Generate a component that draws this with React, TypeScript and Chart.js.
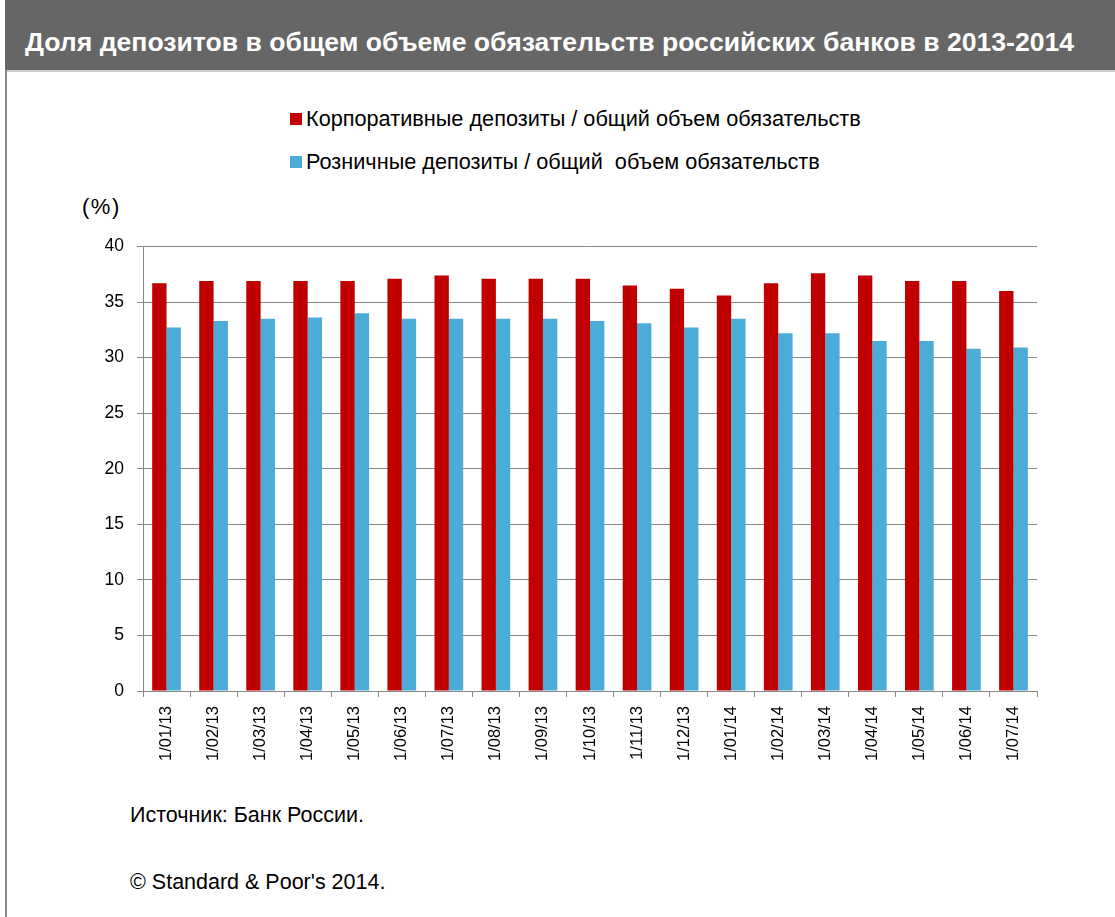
import React, { useEffect, useRef } from "react";
import { Chart, registerables } from "chart.js";

Chart.register(...registerables);

const categories = [
  "1/01/13", "1/02/13", "1/03/13", "1/04/13", "1/05/13", "1/06/13", "1/07/13",
  "1/08/13", "1/09/13", "1/10/13", "1/11/13", "1/12/13", "1/01/14", "1/02/14",
  "1/03/14", "1/04/14", "1/05/14", "1/06/14", "1/07/14",
];
const corporateShare = [
  36.7, 36.9, 36.9, 36.9, 36.9, 37.1, 37.4, 37.1, 37.1, 37.1,
  36.5, 36.2, 35.6, 36.7, 37.6, 37.4, 36.9, 36.9, 36.0,
];
const retailShare = [
  32.7, 33.3, 33.5, 33.6, 34.0, 33.5, 33.5, 33.5, 33.5, 33.3,
  33.1, 32.7, 33.5, 32.2, 32.2, 31.5, 31.5, 30.8, 30.9,
];
const seriesNames = [
  "Корпоративные депозиты / общий объем обязательств",
  "Розничные депозиты / общий  объем обязательств",
];
const seriesColors = ["#C00000", "#4BACD8"];
const yMin = 0;
const yMax = 40;
const yStep = 5;

const FONT = "'Liberation Sans', Arial, sans-serif";

export default function App() {
  const canvasRef = useRef<HTMLCanvasElement | null>(null);

  useEffect(() => {
    const canvas = canvasRef.current;
    if (!canvas) return;
    const chart = new Chart(canvas, {
      type: "bar",
      data: {
        labels: categories,
        datasets: [
          {
            label: seriesNames[0],
            data: corporateShare,
            backgroundColor: seriesColors[0],
            borderWidth: 0,
          },
          {
            label: seriesNames[1],
            data: retailShare,
            backgroundColor: seriesColors[1],
            borderWidth: 0,
          },
        ],
      },
      options: {
        responsive: false,
        animation: false,
        devicePixelRatio: 1,
        layout: { padding: { top: 10, right: 78, left: 0, bottom: 0 } },
        datasets: {
          bar: { categoryPercentage: 0.61, barPercentage: 1 },
        },
        plugins: {
          legend: { display: false },
          title: { display: false },
          tooltip: { enabled: false },
        },
        scales: {
          x: {
            grid: {
              offset: true,
              drawOnChartArea: false,
              drawTicks: true,
              tickLength: 6,
              color: "#888888",
            },
            border: { color: "#888888", width: 1 },
            ticks: {
              minRotation: 90,
              maxRotation: 90,
              autoSkip: false,
              padding: 9,
              color: "#000000",
              font: { family: FONT, size: 16.5 },
            },
            afterFit: (scale: any) => {
              scale.height = 100;
            },
          },
          y: {
            min: yMin,
            max: yMax,
            ticks: {
              stepSize: yStep,
              padding: 13,
              color: "#000000",
              font: { family: FONT, size: 17.5 },
            },
            grid: {
              color: "#888888",
              tickLength: 6,
              lineWidth: 1,
            },
            border: { color: "#888888", width: 1 },
            afterFit: (scale: any) => {
              scale.width = 143;
            },
          },
        },
      },
    });
    return () => chart.destroy();
  }, []);

  const textBase: React.CSSProperties = {
    position: "absolute",
    whiteSpace: "pre",
    fontFamily: FONT,
    color: "#000",
  };

  return (
    <div
      style={{
        position: "fixed",
        left: 0,
        top: 0,
        width: 1115,
        height: 917,
        background: "#fff",
        overflow: "hidden",
      }}
    >
      <div
        style={{
          position: "absolute",
          left: 5,
          top: 0,
          width: 1110,
          height: 70,
          background: "#666666",
        }}
      />
      <div
        style={{
          position: "absolute",
          left: 5,
          top: 70,
          width: 1110,
          height: 2,
          background: "#cfcfcf",
        }}
      />
      <div
        style={{
          position: "absolute",
          left: 5,
          top: 70,
          width: 2,
          height: 847,
          background: "#8a8a8a",
        }}
      />
      <div
        style={{
          ...textBase,
          left: 25,
          top: 27,
          lineHeight: "30px",
          fontSize: 26.6,
          fontWeight: "bold",
          color: "#ffffff",
        }}
      >
        Доля депозитов в общем объеме обязательств российских банков в 2013-2014
      </div>

      <div
        style={{
          position: "absolute",
          left: 290,
          top: 113,
          width: 12,
          height: 12,
          background: seriesColors[0],
        }}
      />
      <div style={{ ...textBase, left: 306, top: 107, lineHeight: "24px", fontSize: 21.7 }}>
        {seriesNames[0]}
      </div>
      <div
        style={{
          position: "absolute",
          left: 290,
          top: 156,
          width: 12,
          height: 12,
          background: seriesColors[1],
        }}
      />
      <div style={{ ...textBase, left: 306, top: 150, lineHeight: "24px", fontSize: 21.7 }}>
        {seriesNames[1]}
      </div>

      <div
        style={{
          ...textBase,
          left: 82,
          top: 195,
          lineHeight: "24px",
          fontSize: 22,
          letterSpacing: "1.5px",
        }}
      >
        (%)
      </div>

      <canvas
        ref={canvasRef}
        width={1115}
        height={568}
        style={{ position: "absolute", left: 0, top: 223, width: 1115, height: 568 }}
      />

      <div style={{ ...textBase, left: 130, top: 803, lineHeight: "24px", fontSize: 21.5 }}>
        Источник: Банк России.
      </div>
      <div style={{ ...textBase, left: 130, top: 870, lineHeight: "24px", fontSize: 21.5 }}>
        © Standard &amp; Poor's 2014.
      </div>
    </div>
  );
}
